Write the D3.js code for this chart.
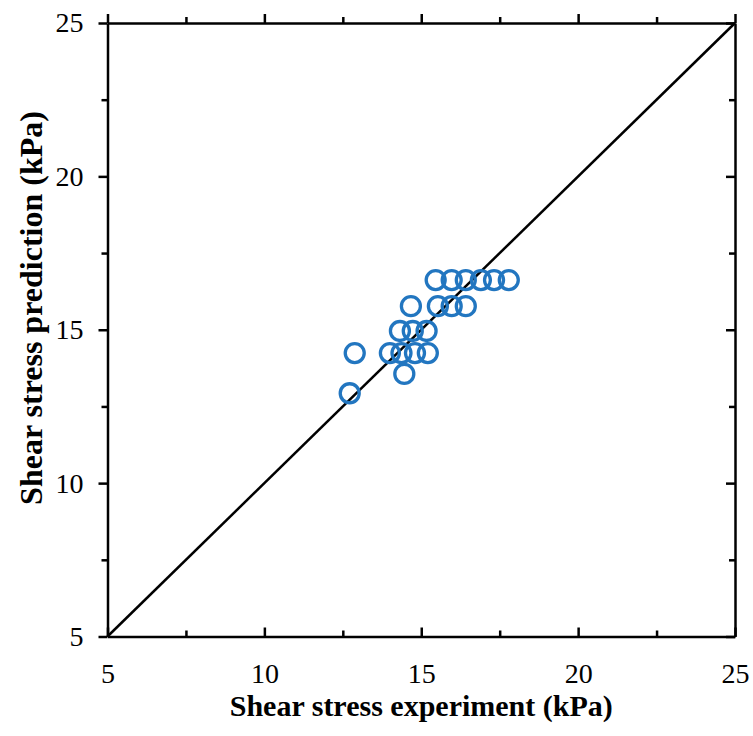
<!DOCTYPE html>
<html>
<head>
<meta charset="utf-8">
<script src="https://cdn.jsdelivr.net/npm/d3@7"></script>
<style>
  body { margin: 0; background: #fff; }
  svg { display: block; }
  .axis text { font-family: "Liberation Serif", "Times New Roman", serif; font-size: 28px; fill: #000; }
  .axis path, .axis line { stroke: #000; stroke-width: 2.5; }
  .title { font-family: "Liberation Serif", "Times New Roman", serif; font-size: 30px; font-weight: bold; }
</style>
</head>
<body>
<div id="chart"></div>
<script>
const TICKS = [5, 7.5, 10, 12.5, 15, 17.5, 20, 22.5, 25];
const LABELS = [5, 10, 15, 20, 25];
const DOMAIN = [5, 25];

// measured shear stress (kPa)
const experiment = [
	15.46, 15.97, 16.42, 16.90, 17.32, 17.79,
	14.67, 15.53, 15.97, 16.42,
	14.32, 14.73, 15.17,
	12.88, 14.00, 14.37, 14.80, 15.21,
	14.46,
	12.72
];
// predicted shear stress (kPa)
const prediction = [
	16.62, 16.62, 16.62, 16.62, 16.62, 16.62,
	15.77, 15.77, 15.77, 15.77,
	14.96, 14.96, 14.96,
	14.24, 14.24, 14.24, 14.24, 14.24,
	13.56,
	12.93
];

const W = 753, H = 736;
const margin = { top: 23, right: 18, bottom: 99.5, left: 107.5 };
const width = W - margin.left - margin.right;
const height = H - margin.top - margin.bottom;

const MAJOR = 9, MINOR = 6;
const isMajor = d => d % 5 === 0;

const svg = d3.select("#chart").append("svg")
	.attr("width", W)
	.attr("height", H);

const g = svg.append("g")
	.attr("transform", "translate(" + margin.left + "," + margin.top + ")");

const x = d3.scaleLinear().domain(DOMAIN).range([0, width]);
const y = d3.scaleLinear().domain(DOMAIN).range([height, 0]);

const fmt = d => LABELS.includes(d) ? d : "";

function sizeTicks (sel, sign, attr) {
	sel.selectAll(".tick line")
		.attr(attr, d => sign * (isMajor(d) ? MAJOR : MINOR));
}

// left: outward ticks with labels
g.append("g")
	.attr("class", "axis")
	.call(d3.axisLeft(y).tickValues(TICKS).tickFormat(fmt).tickSizeOuter(0).tickPadding(18))
	.call(s => sizeTicks(s, -1, "x2"));

// right: inward ticks
g.append("g")
	.attr("class", "axis")
	.attr("transform", "translate(" + width + ",0)")
	.call(d3.axisRight(y).tickValues(TICKS).tickFormat("").tickSizeOuter(0))
	.call(s => sizeTicks(s, -1, "x2"));

// bottom: inward ticks with labels
const xAxis = g.append("g")
	.attr("class", "axis")
	.attr("transform", "translate(0," + height + ")")
	.call(d3.axisBottom(x).tickValues(TICKS).tickFormat(fmt).tickSizeOuter(0).tickPadding(0))
	.call(s => sizeTicks(s, -1, "y2"));
xAxis.selectAll(".tick text").attr("y", 26.5);

// top: inward ticks
g.append("g")
	.attr("class", "axis")
	.call(d3.axisTop(x).tickValues(TICKS).tickFormat("").tickSizeOuter(0))
	.call(s => sizeTicks(s, -1, "y2"));

// 1:1 line
g.append("line")
	.attr("x1", x(DOMAIN[0]))
	.attr("y1", y(DOMAIN[0]))
	.attr("x2", x(DOMAIN[1]))
	.attr("y2", y(DOMAIN[1]))
	.attr("stroke", "#000")
	.attr("stroke-width", 2.5);

g.append("g")
	.selectAll("circle")
	.data(experiment)
	.enter()
	.append("circle")
	.attr("cx", d => x(d))
	.attr("cy", (d, i) => y(prediction[i]))
	.attr("r", 9.5)
	.attr("fill", "none")
	.attr("stroke", "#2276c0")
	.attr("stroke-width", 3.3);

svg.append("text")
	.attr("class", "title")
	.attr("x", margin.left + width / 2)
	.attr("y", 716)
	.attr("text-anchor", "middle")
	.text("Shear stress experiment (kPa)");

svg.append("text")
	.attr("class", "title")
	.attr("transform", "translate(42,308) rotate(-90)")
	.attr("text-anchor", "middle")
	.style("font-size", "32px")
	.text("Shear stress prediction (kPa)");
</script>
</body>
</html>
